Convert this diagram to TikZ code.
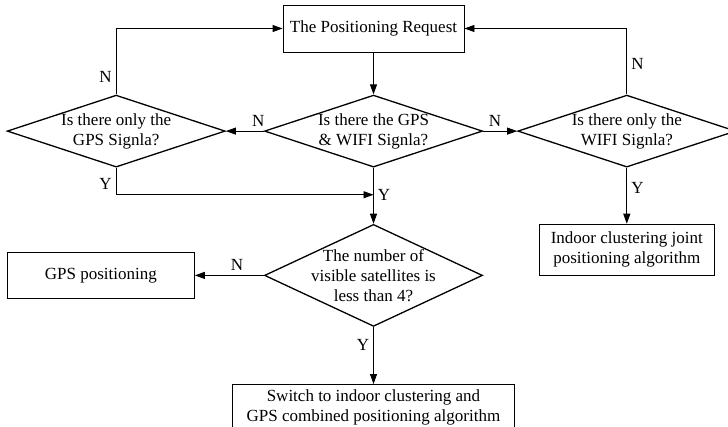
\documentclass[tikz,border=0pt]{standalone}
\usepackage{fontspec}
\setmainfont{Liberation Serif}
\usetikzlibrary{shapes.geometric, arrows.meta, positioning}
\begin{document}
\begin{tikzpicture}[
  x=1pt, y=1pt,
  font=\fontsize{17}{20}\selectfont,
  box/.style={draw, line width=0.9pt, align=center, inner sep=2pt},
  dec/.style={draw, diamond, line width=1.3pt, align=center, inner sep=-8pt, aspect=3, minimum width=218pt, minimum height=72pt},
  ar/.style={-{Triangle[length=10pt, width=7pt]}, line width=0.9pt},
  lbl/.style={inner sep=4pt}
]
\useasboundingbox (0,0) rectangle (728,-427);
\node[box, minimum width=181pt, minimum height=47pt] (req) at (373.5,-28.5) {The Positioning Request};
\node[dec, below=42pt of req] (both) {Is there the GPS\\\& WIFI Signla?};
\node[dec, left=38pt of both] (gpsonly) {Is there only the\\GPS Signla?};
\node[dec, right=34pt of both] (wifionly) {Is there only the\\WIFI Signla?};
\node[dec, below=56pt of both, aspect=2.14, minimum height=102pt, inner xsep=-15pt, inner ysep=-10pt] (sats) {The number of\\visible satellites is\\less than 4?};
\node[box, left=69pt of sats, minimum width=187pt, minimum height=46pt] (gpspos) {GPS positioning};
\node[box, below=57pt of sats, minimum width=282pt, minimum height=46pt] (combined) {Switch to indoor clustering and\\GPS combined positioning algorithm};
\node[box, below=56pt of wifionly, minimum width=175pt, minimum height=51pt] (indoor) {Indoor clustering joint\\positioning algorithm};
\coordinate[below=27pt of both.south] (join);
% request and first check
\draw[ar] (req) -- (both);
\draw[ar] (both.west) -- node[lbl, above, pos=0.15]{N} (gpsonly.east);
\draw[ar] (both.east) -- node[lbl, above, pos=0.35]{N} (wifionly.west);
\draw[ar] (gpsonly.north) |- node[lbl, left, pos=0.13]{N} (req.west);
\draw[ar] (wifionly.north) |- node[lbl, right, pos=0.23]{N} (req.east);
\draw[ar] (gpsonly.south) |- node[lbl, left, pos=0.3]{Y} (join);
\draw[ar] (both.south) -- node[lbl, right, pos=0.48]{Y} (sats.north);
\draw[ar] (wifionly.south) -- node[lbl, right, pos=0.36]{Y} (indoor);
% satellite check
\draw[ar] (sats.west) -- node[lbl, above, pos=0.39]{N} (gpspos);
\draw[ar] (sats.south) -- node[lbl, left, pos=0.32]{Y} (combined);
\end{tikzpicture}
\end{document}
